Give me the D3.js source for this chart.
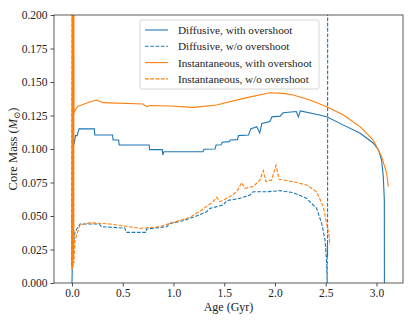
<!DOCTYPE html>
<html>
<head>
<meta charset="utf-8">
<script src="https://cdn.jsdelivr.net/npm/d3@7"></script>
<style>
  body { margin: 0; background: #fff; }
  svg text { font-family: 'Liberation Serif', 'DejaVu Serif', serif; fill: #222; }
</style>
</head>
<body>
<svg id="chart" width="415" height="323"></svg>
<script>
// age (Gyr), core mass (Msun)
var diffOv = [
  [0.000, 0.000], [0.003, 0.012], [0.010, 0.25], [0.016, 0.103], [0.022, 0.104],
  [0.035, 0.110], [0.050, 0.110], [0.070, 0.115], [0.220, 0.115], [0.225, 0.1105],
  [0.400, 0.1105], [0.405, 0.1067], [0.460, 0.1067], [0.465, 0.103], [0.760, 0.103],
  [0.765, 0.0995], [0.890, 0.0995], [0.895, 0.0955], [0.905, 0.098], [1.290, 0.098],
  [1.300, 0.0998], [1.410, 0.1000], [1.420, 0.103], [1.470, 0.1032], [1.480, 0.1050],
  [1.550, 0.1055], [1.560, 0.1067], [1.630, 0.1070], [1.640, 0.1100], [1.740, 0.1105],
  [1.760, 0.1150], [1.820, 0.1166], [1.850, 0.1120], [1.870, 0.1190], [1.950, 0.1205],
  [1.970, 0.1240], [2.050, 0.1245], [2.080, 0.1270], [2.210, 0.1280], [2.230, 0.1240],
  [2.250, 0.1284], [2.440, 0.1254], [2.510, 0.1240], [2.670, 0.1180], [2.840, 0.1117],
  [2.970, 0.1043], [3.020, 0.0993], [3.050, 0.0918], [3.067, 0.0790], [3.077, 0.0620],
  [3.078, 0.000]
];
var diffNoOv = [
  [-0.002, 0.013], [0.004, 0.25], [0.010, 0.020], [0.015, 0.030], [0.030, 0.038],
  [0.060, 0.042], [0.080, 0.044], [0.270, 0.044], [0.290, 0.042], [0.520, 0.041],
  [0.535, 0.0378], [0.730, 0.0378], [0.736, 0.0403], [0.933, 0.042], [0.966, 0.0445],
  [1.097, 0.0465], [1.212, 0.0495], [1.327, 0.0532], [1.360, 0.0557], [1.490, 0.0582],
  [1.524, 0.0614], [1.655, 0.0632], [1.754, 0.0657], [1.786, 0.0681], [1.918, 0.0681],
  [2.050, 0.0689], [2.180, 0.0674], [2.310, 0.0632], [2.410, 0.0557], [2.460, 0.0445],
  [2.493, 0.032], [2.509, 0.0147], [2.514, 0.000], [2.516, 0.030], [2.518, 0.020],
  [2.519, 0.30]
];
var instOv = [
  [0.000, 0.010], [0.002, 0.30], [0.004, 0.012], [0.006, 0.30], [0.008, 0.015],
  [0.010, 0.30], [0.012, 0.020], [0.014, 0.30], [0.016, 0.030], [0.018, 0.28],
  [0.020, 0.1266], [0.030, 0.129], [0.060, 0.132], [0.096, 0.1328], [0.177, 0.1353],
  [0.243, 0.1366], [0.308, 0.1346], [0.700, 0.1336], [0.736, 0.1316], [0.770, 0.1325],
  [0.966, 0.1321], [1.195, 0.1311], [1.425, 0.1328], [1.688, 0.1378], [1.950, 0.1420],
  [2.080, 0.1415], [2.180, 0.1403], [2.345, 0.1366], [2.510, 0.1316], [2.673, 0.1254],
  [2.837, 0.1167], [2.968, 0.1067], [3.051, 0.0943], [3.100, 0.0819], [3.116, 0.0719]
];
var instNoOv = [
  [0.003, 0.010], [0.007, 0.26], [0.011, 0.012], [0.015, 0.22], [0.019, 0.015],
  [0.030, 0.032], [0.079, 0.0433], [0.177, 0.045], [0.374, 0.044], [0.670, 0.0408],
  [0.867, 0.042], [0.966, 0.0445], [1.163, 0.049], [1.278, 0.0545], [1.392, 0.0607],
  [1.426, 0.064], [1.458, 0.0607], [1.557, 0.0645], [1.623, 0.0681], [1.672, 0.0749],
  [1.704, 0.0706], [1.786, 0.072], [1.852, 0.0769], [1.885, 0.0838], [1.911, 0.0756],
  [1.967, 0.0769], [2.010, 0.0878], [2.042, 0.0774], [2.180, 0.0756], [2.312, 0.0731],
  [2.410, 0.0681], [2.476, 0.0569], [2.515, 0.042], [2.535, 0.0346], [2.540, 0.0284]
];

var seriesLabels = ["Diffusive, with overshoot", "Diffusive, w/o overshoot",
                    "Instantaneous, with overshoot", "Instantaneous, w/o overshoot"];
var xTicks = [0.0, 0.5, 1.0, 1.5, 2.0, 2.5, 3.0];
var yTicks = [0.000, 0.025, 0.050, 0.075, 0.100, 0.125, 0.150, 0.175, 0.200];

var FONT = "'Liberation Serif', 'DejaVu Serif', serif";
var blue = "#1f77b4", orange = "#ff7f0e";
var series = [
  { data: diffOv,   color: blue,   dash: null },
  { data: diffNoOv, color: blue,   dash: "3.7,1.6" },
  { data: instOv,   color: orange, dash: null },
  { data: instNoOv, color: orange, dash: "3.7,1.6" }
];

var L = 54, R = 403, T = 15, B = 283;
var svg = d3.select("#chart");

var x = d3.scaleLinear().domain([-0.177, 3.261]).range([L, R]);
var y = d3.scaleLinear().domain([0, 0.2]).range([B, T]);

svg.append("defs").append("clipPath").attr("id", "clip")
  .append("rect").attr("x", L).attr("y", T).attr("width", R - L).attr("height", B - T);

var line = d3.line().x(function(d){ return x(d[0]); }).y(function(d){ return y(d[1]); });

var plot = svg.append("g").attr("clip-path", "url(#clip)");
series.forEach(function(s){
  plot.append("path")
    .datum(s.data)
    .attr("d", line)
    .attr("fill", "none")
    .attr("stroke", s.color)
    .attr("stroke-width", 1.1)
    .attr("stroke-dasharray", s.dash);
});

// axes
var xAxis = svg.append("g").attr("transform", "translate(0," + B + ")")
  .call(d3.axisBottom(x).tickValues(xTicks).tickFormat(d3.format(".1f")).tickSizeOuter(0).tickSize(3.5));
var yAxis = svg.append("g").attr("transform", "translate(" + L + ",0)")
  .call(d3.axisLeft(y).tickValues(yTicks).tickFormat(d3.format(".3f")).tickSizeOuter(0).tickSize(3.5));
[xAxis, yAxis].forEach(function(a){
  a.attr("font-family", FONT);
  a.select(".domain").remove();
  a.selectAll("line").attr("stroke", "#222").attr("stroke-width", 0.8);
  a.selectAll("text").attr("font-size", 11.5).attr("font-family", FONT).attr("fill", "#222");
});
xAxis.selectAll("text").attr("y", 5.5);

svg.append("rect").attr("x", L).attr("y", T).attr("width", R - L).attr("height", B - T)
  .attr("fill", "none").attr("stroke", "#333").attr("stroke-width", 0.8);

// axis labels
svg.append("text").attr("x", (L + R) / 2).attr("y", 311).attr("text-anchor", "middle")
  .attr("font-family", FONT).attr("font-size", 12).text("Age (Gyr)");
var yl = svg.append("text").attr("transform", "translate(17," + ((T + B) / 2) + ") rotate(-90)")
  .attr("text-anchor", "middle").attr("font-family", FONT).attr("font-size", 12.5);
yl.append("tspan").text("Core Mass (");
yl.append("tspan").attr("font-style", "italic").text("M");
yl.append("tspan").attr("font-size", 8.5).attr("dy", 3).text("\u2299");
yl.append("tspan").attr("dy", -3).text(")");

// legend
var lg = svg.append("g").attr("transform", "translate(140,20)").attr("font-family", FONT);
lg.append("rect").attr("width", 179).attr("height", 69).attr("rx", 2)
  .attr("fill", "#fff").attr("fill-opacity", 0.8).attr("stroke", "#ccc").attr("stroke-width", 0.8);
seriesLabels.forEach(function(lab, i){
  var yy = 10 + i * 16.3;
  lg.append("line").attr("x1", 5).attr("x2", 28).attr("y1", yy).attr("y2", yy)
    .attr("stroke", series[i].color).attr("stroke-width", 1.1)
    .attr("stroke-dasharray", series[i].dash);
  lg.append("text").attr("x", 38).attr("y", yy).attr("dy", "0.35em")
    .attr("font-family", FONT).attr("font-size", 11.2).text(lab);
});
</script>
</body>
</html>
